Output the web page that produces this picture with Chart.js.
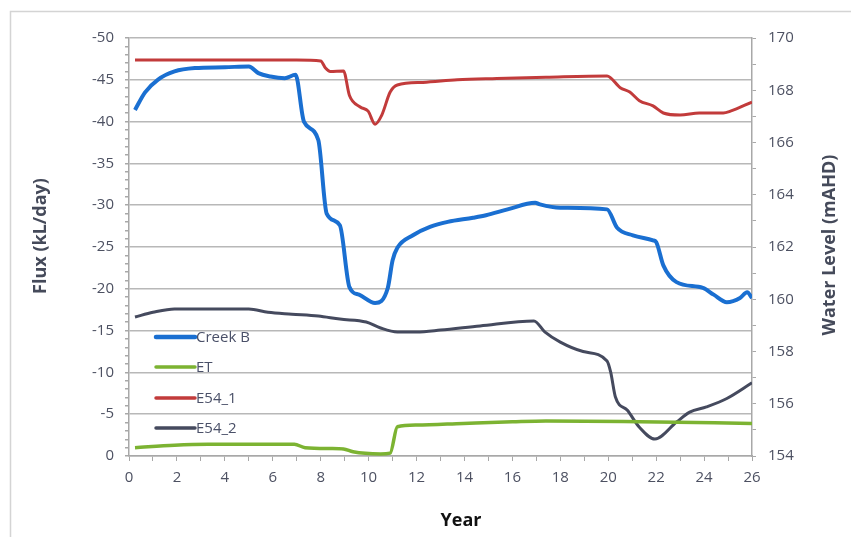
<!DOCTYPE html>
<html>
<head>
<meta charset="utf-8">
<script src="https://cdn.jsdelivr.net/npm/chart.js@4.4.1/dist/chart.umd.min.js"></script>
<style>
  html, body { margin: 0; padding: 0; background: #ffffff; }
  #wrap { width: 851px; height: 537px; position: relative; }
</style>
</head>
<body>
<div id="wrap"><canvas id="c" width="851" height="537"></canvas></div>
<script>
// Flux series (left axis, kL/day)
const creekYears = [0.25, 0.67, 1.2, 1.9, 2.75, 4.0, 5.0, 5.4, 5.9, 6.5, 6.95, 7.3, 7.9, 8.25, 8.8, 9.2, 9.6, 10.27, 10.8, 11.0, 11.2, 11.85, 12.56, 13.3, 14.36, 14.9, 15.8, 16.95, 17.15, 18.0, 19.95, 20.37, 21.03, 21.87, 22.0, 22.3, 22.85, 23.95, 24.4, 24.95, 25.5, 25.8, 26.0];
const creekB     = [-41.4, -43.5, -45.0, -46.0, -46.4, -46.5, -46.6, -45.8, -45.4, -45.2, -45.6, -40.0, -37.8, -29.0, -27.6, -20.2, -19.3, -18.3, -20.1, -23.4, -24.9, -26.4, -27.4, -28.0, -28.5, -28.8, -29.5, -30.3, -30.1, -29.7, -29.5, -27.3, -26.4, -25.8, -25.6, -22.8, -20.8, -20.1, -19.3, -18.4, -18.9, -19.6, -18.9];

const etYears = [0.25, 1.9, 3.3, 5.0, 6.9, 7.35, 8.4, 8.95, 9.35, 10.5, 10.9, 11.2, 12.0, 13.95, 16.0, 17.4, 21.3, 26.0];
const et      = [-1.0, -1.3, -1.4, -1.4, -1.4, -1.0, -0.9, -0.85, -0.5, -0.25, -0.35, -3.5, -3.7, -3.9, -4.1, -4.2, -4.1, -3.9];

// Water level series (right axis, mAHD)
const e541Years = [0.25, 7.0, 8.0, 8.2, 8.4, 8.95, 9.2, 9.65, 9.98, 10.27, 10.55, 10.9, 11.2, 12.27, 13.7, 15.35, 17.4, 19.95, 20.5, 20.9, 21.3, 21.87, 22.3, 23.0, 23.8, 24.8, 25.1, 26.0];
const e541      = [169.16, 169.16, 169.12, 168.85, 168.72, 168.74, 167.8, 167.36, 167.2, 166.7, 167.05, 167.93, 168.2, 168.3, 168.4, 168.45, 168.5, 168.55, 168.1, 167.93, 167.6, 167.4, 167.13, 167.05, 167.13, 167.13, 167.2, 167.55];

const e542Years = [0.25, 1.0, 1.9, 3.3, 5.0, 5.8, 6.8, 7.9, 8.8, 9.9, 10.5, 11.2, 12.0, 13.0, 14.65, 16.9, 17.35, 18.0, 18.95, 19.95, 20.1, 20.3, 20.8, 21.3, 21.95, 22.85, 23.4, 24.1, 24.95, 26.0];
const e542      = [159.32, 159.5, 159.63, 159.63, 159.63, 159.5, 159.43, 159.36, 159.24, 159.13, 158.9, 158.75, 158.75, 158.82, 158.98, 159.17, 158.75, 158.36, 158.0, 157.64, 157.22, 156.26, 155.75, 155.1, 154.65, 155.3, 155.68, 155.88, 156.2, 156.8];

// Axis ranges and labelled steps
const xRange = [0, 26], xLabelStep = 2;
const fluxRange = [-50, 0], fluxLabelStep = 5;
const levelRange = [154, 170], levelLabelStep = 2;

const seriesNames = ['Creek B', 'ET', 'E54_1', 'E54_2'];
const colors = ['#1a6fd1', '#7cb332', '#c23b3b', '#454a5e'];

const pts = (xs, ys) => xs.map((x, i) => ({ x, y: ys[i] }));

const GRID = '#b8b8b8';
const AXIS = '#a8a8a8';
const TXT = '#4d5162';
const FONT = '"Open Sans", Lato, sans-serif';

function isMult(v, step) { return Math.abs(v / step - Math.round(v / step)) < 1e-6; }

// Frame, axis titles and legend drawn on the canvas
const decor = {
  id: 'decor',
  beforeDraw(chart) {
    const ctx = chart.ctx;
    ctx.save();
    ctx.fillStyle = '#ffffff';
    ctx.fillRect(0, 0, chart.width, chart.height);
    ctx.strokeStyle = '#d4d4d4';
    ctx.lineWidth = 1.5;
    ctx.beginPath();
    ctx.moveTo(10.5, chart.height);
    ctx.lineTo(10.5, 11.5);
    ctx.lineTo(chart.width, 11.5);
    ctx.stroke();
    ctx.restore();
  },
  afterDraw(chart) {
    const ctx = chart.ctx;
    ctx.save();
    ctx.font = 'bold 18px ' + FONT;
    ctx.fillStyle = '#454a5a';
    ctx.textAlign = 'center';
    ctx.textBaseline = 'middle';
    ctx.save();
    ctx.translate(41, 236);
    ctx.rotate(-Math.PI / 2);
    ctx.fillText('Flux (kL/day)', 0, 0);
    ctx.restore();
    ctx.save();
    ctx.translate(830, 245);
    ctx.rotate(-Math.PI / 2);
    ctx.fillText('Water Level (mAHD)', 0, 0);
    ctx.restore();
    ctx.fillStyle = '#111111';
    ctx.fillText('Year', 461, 521);

    // legend
    const ly = [337, 367, 398, 428];
    const lw = [4.5, 3.5, 3.5, 3.5];
    ctx.font = '15px ' + FONT;
    ctx.textAlign = 'left';
    seriesNames.forEach((name, i) => {
      ctx.strokeStyle = colors[i];
      ctx.lineWidth = lw[i];
      ctx.lineCap = 'round';
      ctx.beginPath();
      ctx.moveTo(156, ly[i]);
      ctx.lineTo(195, ly[i]);
      ctx.stroke();
      ctx.fillStyle = '#4a5068';
      ctx.fillText(name, 196, ly[i] + 1);
    });
    ctx.restore();
  }
};

new Chart(document.getElementById('c'), {
  type: 'line',
  data: {
    datasets: [
      { label: seriesNames[0], data: pts(creekYears, creekB), yAxisID: 'yFlux', borderColor: colors[0], borderWidth: 4 },
      { label: seriesNames[1], data: pts(etYears, et), yAxisID: 'yFlux', borderColor: colors[1], borderWidth: 3.5 },
      { label: seriesNames[2], data: pts(e541Years, e541), yAxisID: 'yLevel', borderColor: colors[2], borderWidth: 3 },
      { label: seriesNames[3], data: pts(e542Years, e542), yAxisID: 'yLevel', borderColor: colors[3], borderWidth: 3 }
    ].map(d => Object.assign(d, { pointRadius: 0, fill: false, cubicInterpolationMode: 'monotone' }))
  },
  options: {
    responsive: false,
    animation: false,
    layout: { padding: { top: 38, left: 0, right: 0, bottom: 0 } },
    plugins: { legend: { display: false }, tooltip: { enabled: false } },
    scales: {
      x: {
        type: 'linear', position: 'bottom',
        min: xRange[0], max: xRange[1],
        afterFit(s) { s.height = 81; },
        border: { color: AXIS, width: 1.5 },
        grid: { drawOnChartArea: false, tickLength: 5, tickColor: AXIS },
        ticks: {
          stepSize: 1, autoSkip: false, maxRotation: 0, padding: 8,
          color: TXT, font: { family: FONT, size: 15 },
          callback: v => isMult(v, xLabelStep) ? String(v) : ''
        }
      },
      yFlux: {
        type: 'linear', position: 'left', reverse: true,
        min: fluxRange[0], max: fluxRange[1],
        afterFit(s) { s.width = 129; },
        border: { color: AXIS, width: 1.5 },
        grid: {
          tickLength: 4, tickColor: AXIS, lineWidth: 1.5,
          color: c => isMult(c.tick.value, fluxLabelStep) ? GRID : 'rgba(0,0,0,0)'
        },
        ticks: {
          stepSize: 1, autoSkip: false, padding: 11,
          color: TXT, font: { family: FONT, size: 15 },
          callback: v => isMult(v, fluxLabelStep) ? String(v) : ''
        }
      },
      yLevel: {
        type: 'linear', position: 'right',
        min: levelRange[0], max: levelRange[1],
        afterFit(s) { s.width = 99; },
        border: { color: AXIS, width: 1.5 },
        grid: { drawOnChartArea: false, tickLength: 4, tickColor: AXIS },
        ticks: {
          stepSize: 1, autoSkip: false, padding: 12,
          color: TXT, font: { family: FONT, size: 15 },
          callback: v => isMult(v, levelLabelStep) ? String(v) : ''
        }
      }
    }
  },
  plugins: [decor]
});
</script>
</body>
</html>
